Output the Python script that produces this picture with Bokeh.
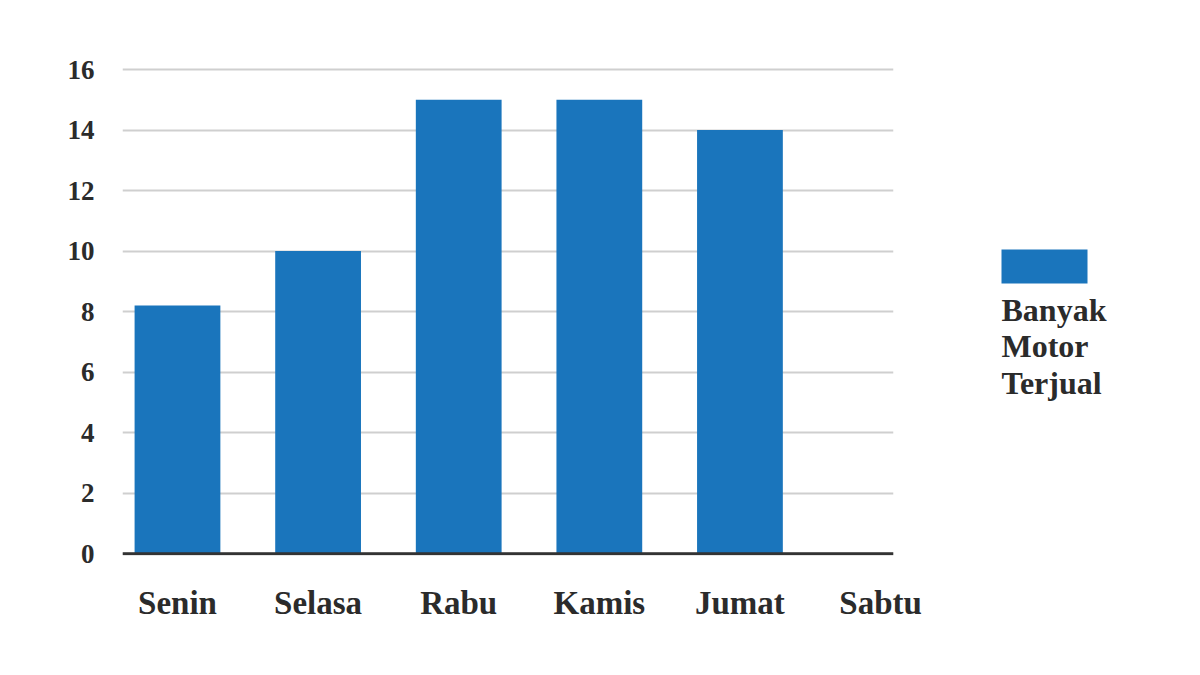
from bokeh.plotting import figure
from bokeh.layouts import row
from bokeh.models import Range1d, FixedTicker, Span
from bokeh.core.properties import value
from bokeh.embed import file_html
from bokeh.resources import INLINE

days = ["Senin", "Selasa", "Rabu", "Kamis", "Jumat", "Sabtu"]
motors_sold = [8.2, 10, 15, 15, 14, 0]
y_ticks = [0, 2, 4, 6, 8, 10, 12, 14, 16]
legend_lines = ["Banyak", "Motor", "Terjual"]

BAR = "#1a75bc"
TXT = "#2b2b2b"
FONT = "Liberation Serif"

xs = list(range(len(days)))

p = figure(
    frame_width=771, frame_height=489,
    min_border_left=122, min_border_right=40,
    min_border_top=66, min_border_bottom=112,
    x_range=Range1d(-0.391, 5.092), y_range=Range1d(-0.06, 16.1),
    output_backend="svg", toolbar_location=None,
    background_fill_color="white", border_fill_color="white",
)
p.outline_line_color = None

p.vbar(x=xs, top=motors_sold, bottom=0, width=0.61, fill_color=BAR, line_color=None)

p.xgrid.grid_line_color = None
p.ygrid.grid_line_color = "#cfcfcf"
p.ygrid.grid_line_width = 2
p.ygrid.ticker = FixedTicker(ticks=y_ticks)

p.add_layout(Span(location=0, dimension="width", line_color="#333333", line_width=3))

p.yaxis.ticker = FixedTicker(ticks=y_ticks)
p.yaxis.axis_line_color = None
p.yaxis.major_tick_line_color = None
p.yaxis.minor_tick_line_color = None
p.yaxis.major_label_standoff = 22
p.yaxis.major_label_text_font = FONT
p.yaxis.major_label_text_font_style = "bold"
p.yaxis.major_label_text_font_size = "27px"
p.yaxis.major_label_text_color = TXT

p.xaxis.ticker = FixedTicker(ticks=xs)
p.xaxis.major_label_overrides = {i: d for i, d in zip(xs, days)}
p.xaxis.axis_line_color = None
p.xaxis.major_tick_line_color = None
p.xaxis.minor_tick_line_color = None
p.xaxis.major_label_standoff = 23
p.xaxis.major_label_text_font = FONT
p.xaxis.major_label_text_font_style = "bold"
p.xaxis.major_label_text_font_size = "33px"
p.xaxis.major_label_text_color = TXT

# legend panel to the right of the chart
LW, LH = 259, 667
lg = figure(
    frame_width=LW, frame_height=LH,
    min_border_left=0, min_border_right=0, min_border_top=0, min_border_bottom=0,
    x_range=Range1d(0, LW), y_range=Range1d(LH, 0),
    x_axis_location=None, y_axis_location=None,
    output_backend="svg", toolbar_location=None,
    background_fill_color="white", border_fill_color="white",
)
lg.outline_line_color = None
lg.grid.grid_line_color = None
lg.quad(left=[68], right=[154], top=[183], bottom=[217], fill_color=BAR, line_color=None)
lg.text(x=[68] * len(legend_lines), y=[243 + 36.5 * i for i in range(len(legend_lines))],
        text=legend_lines, text_font=value(FONT), text_font_style="bold",
        text_font_size="32px", text_color=TXT, text_baseline="middle", text_align="left")

layout = row(p, lg)
open("out.html", "w").write(file_html(layout, INLINE))
